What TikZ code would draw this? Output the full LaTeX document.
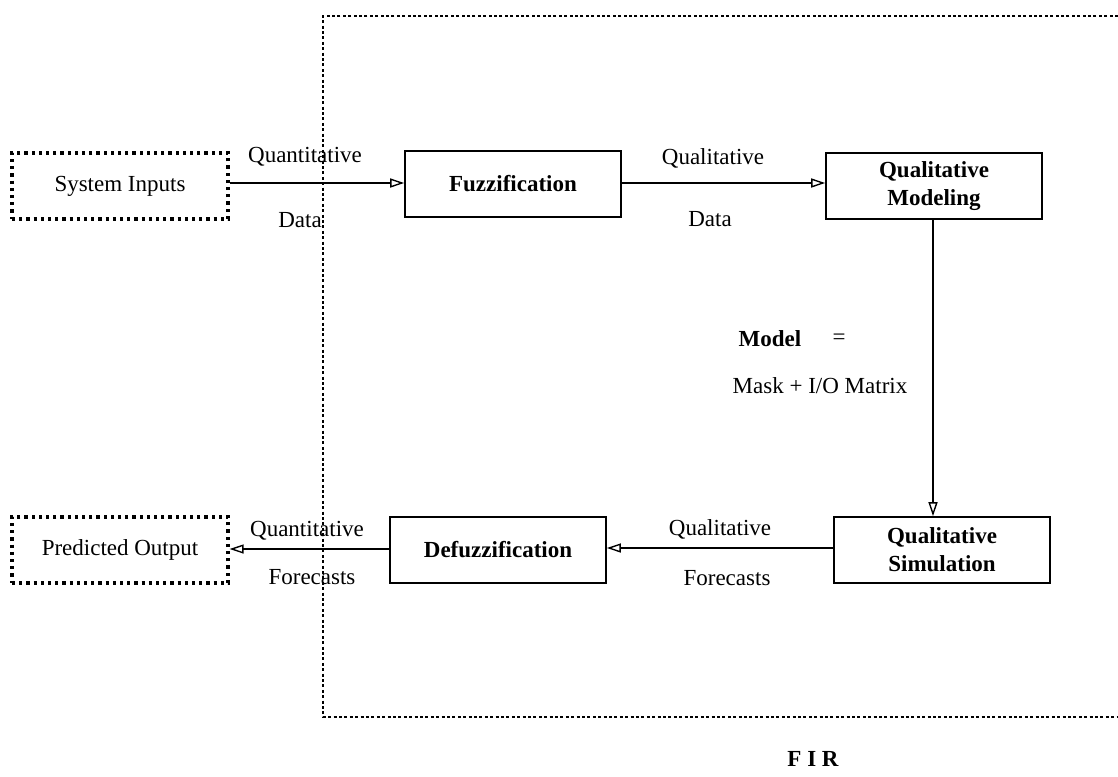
\documentclass[tikz,border=0pt]{standalone}
\usepackage{fontspec}
\setmainfont{Liberation Serif}
\usetikzlibrary{arrows.meta}

\begin{document}
\begin{tikzpicture}[x=0.5pt, y=-0.5pt,
    blk/.style={rectangle, draw, line width=0.8pt, minimum width=108pt,
      minimum height=33pt, align=center, font=\fontsize{11.5}{14}\selectfont\bfseries},
    ext/.style={rectangle, draw, line width=1.6pt, dotted, minimum width=108pt,
      minimum height=33pt, align=center, font=\fontsize{11.5}{14}\selectfont},
    ar/.style={-{Triangle[open, length=7pt, width=4.5pt]}, line width=0.7pt},
    lb/.style={font=\fontsize{11.5}{14}\selectfont, inner sep=1pt}]
    \useasboundingbox (0,0) rectangle (1118,776);
    % FIR frame, open to the right
    \draw[line width=0.6pt, dash pattern=on 1.5pt off 1.2pt]
      (1118,16) -- (323,16) -- (323,717) -- (1118,717);
    \node[lb, font=\fontsize{11.5}{14}\selectfont\bfseries] (fir) at (813,759) {F I R};
    \node[ext] (sysin) at (120,186) {System Inputs};
    \node[blk] (fuzz) at (513,184) {Fuzzification};
    \node[blk] (qmod) at (934,186) {Qualitative\\Modeling};
    \node[blk] (qsim) at (942,550) {Qualitative\\Simulation};
    \node[blk] (defuzz) at (498,550) {Defuzzification};
    \node[ext] (predout) at (120,550) {Predicted Output};
    \draw[ar] (sysin.east |- 0,183) -- (fuzz.west |- 0,183);
    \draw[ar] (fuzz.east |- 0,183) -- (qmod.west |- 0,183);
    \draw[ar] (qmod.south -| 933,0) -- (qsim.north -| 933,0);
    \draw[ar] (qsim.west |- 0,548) -- (defuzz.east |- 0,548);
    \draw[ar] (defuzz.west |- 0,549) -- (predout.east |- 0,549);
    \node[lb] (l1) at (305,157) {Quantitative};
    \node[lb] (l2) at (300,220) {Data};
    \node[lb] (l3) at (713,158) {Qualitative};
    \node[lb] (l4) at (710,219) {Data};
    \node[lb, font=\fontsize{11.5}{14}\selectfont\bfseries] (l5) at (770,339) {Model};
    \node[lb] (l6) at (839,339) {=};
    \node[lb] (l7) at (820,386) {Mask + I/O Matrix};
    \node[lb] (l8) at (720,529) {Qualitative};
    \node[lb] (l9) at (727,578) {Forecasts};
    \node[lb] (l10) at (307,531) {Quantitative};
    \node[lb] (l11) at (312,577) {Forecasts};
  \end{tikzpicture}
\end{document}
